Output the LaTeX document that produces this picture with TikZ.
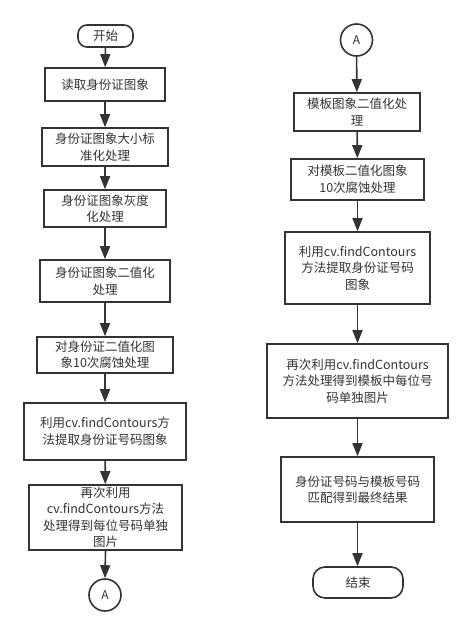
\documentclass[tikz,border=0pt]{standalone}
\usepackage{fontspec}
\setmainfont{Noto Sans CJK SC}
\usetikzlibrary{arrows.meta}
\definecolor{ln}{HTML}{333333}
\tikzset{
  box/.style={draw=ln, line width=1.6pt, rectangle, align=center, text=ln,
    font=\fontsize{12.5}{16.5}\selectfont, inner sep=0pt},
  term/.style={box, rounded corners=9pt},
  conn/.style={draw=ln, line width=1.6pt, circle, text=ln, font=\fontsize{12}{14}\selectfont, inner sep=0pt, minimum size=32pt},
  arr/.style={draw=ln, line width=1.6pt, -{Triangle[length=13pt,width=10pt]}},
}
\begin{document}
\begin{tikzpicture}[x=1pt,y=-1pt]
\useasboundingbox (0,0) rectangle (472,635);
% left column
\node[term, minimum width=55pt, minimum height=22pt] (start) at (105.5,36) {开始};
\node[box, minimum width=120pt, minimum height=33pt] (l1) at (105,84.5) {读取身份证图象};
\node[box, minimum width=126pt, minimum height=38pt] (l2) at (105,147) {身份证图象大小标\\准化处理};
\node[box, minimum width=122pt, minimum height=37pt] (l3) at (105,208.5) {身份证图象灰度\\化处理};
\node[box, minimum width=130pt, minimum height=42pt] (l4) at (105,281) {身份证图象二值化\\处理};
\node[box, minimum width=136pt, minimum height=36pt] (l5) at (105,355) {对身份证二值化图\\象10次腐蚀处理};
\node[box, minimum width=162pt, minimum height=57pt] (l6) at (105,431.5) {利用cv.findContours方\\法提取身份证号码图象};
\node[box, minimum width=153pt, minimum height=65pt] (l7) at (105.5,517.5) {再次利用\\cv.findContours方法\\处理得到每位号码单独\\图片};
\node[conn] (ca) at (105,595) {A};
% right column
\node[conn] (cb) at (356.5,40) {A};
\node[box, minimum width=126pt, minimum height=38pt] (r1) at (357,112) {模板图象二值化处\\理};
\node[box, minimum width=133pt, minimum height=41pt] (r2) at (357.5,179.5) {对模板二值化图象\\10次腐蚀处理};
\node[box, minimum width=145pt, minimum height=72pt] (r3) at (357.5,268) {利用cv.findContours\\方法提取身份证号码\\图象};
\node[box, minimum width=181pt, minimum height=74pt] (r4) at (357.5,381) {再次利用cv.findContours\\方法处理得到模板中每位号\\码单独图片};
\node[box, minimum width=153pt, minimum height=65pt] (r5) at (357.5,489.5) {身份证号码与模板号码\\匹配得到最终结果};
\node[term, minimum width=90pt, minimum height=31pt, rounded corners=12pt] (end) at (358,582.5) {结束};
% arrows
\draw[arr] (start) -- (l1);
\draw[arr] (l1) -- (l2);
\draw[arr] (l2) -- (l3);
\draw[arr] (l3) -- (l4);
\draw[arr] (l4) -- (l5);
\draw[arr] (l5) -- (l6);
\draw[arr] (l6) -- (l7);
\draw[arr] (l7.south) -- (ca.north);
\draw[arr] (cb) -- (r1);
\draw[arr] (r1) -- (r2);
\draw[arr] (r2) -- (r3);
\draw[arr] (r3) -- (r4);
\draw[arr] (r4) -- (r5);
\draw[arr] (r5.south) -- (r5.south |- end.north);
\end{tikzpicture}
\end{document}
